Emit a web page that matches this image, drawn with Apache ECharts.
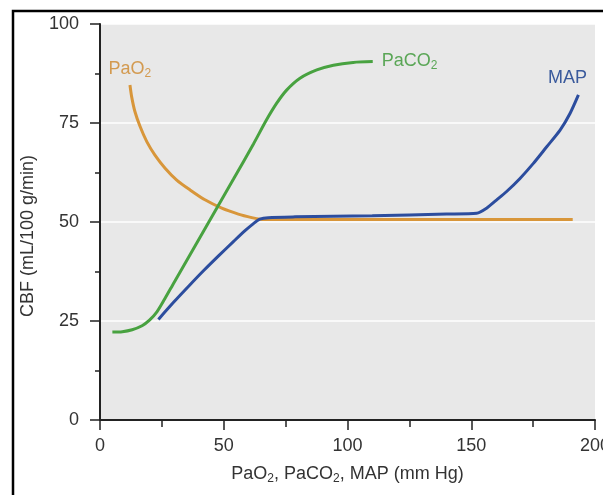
<!DOCTYPE html>
<html>
<head>
<meta charset="utf-8">
<script src="https://cdn.jsdelivr.net/npm/echarts@6/dist/echarts.min.js"></script>
<style>
  html, body { margin: 0; padding: 0; background: #fff; }
  #chart { width: 603px; height: 495px; }
</style>
</head>
<body>
<div id="chart"></div>
<script>
// curve samples (x = mm Hg, y = CBF)
const paO2X = [12.1, 12.8, 14.1, 16.2, 18.9, 22.2, 26.3, 31, 36.4, 42.4, 49.2, 55.9, 61.3, 64.6, 70, 100, 150, 191];
const paO2Y = [84.6, 81.6, 77.9, 74.1, 70.3, 66.9, 63.6, 60.6, 58.1, 55.6, 53.5, 52.0, 51.1, 50.7, 50.6, 50.6, 50.6, 50.6];

const paCO2X = [5, 9, 13, 17, 20, 23, 26, 30, 38, 46, 54, 62, 67.3, 71.4, 75.4, 80.8, 87.6, 94.3, 102.3, 110.2];
const paCO2Y = [22.2, 22.3, 22.8, 23.8, 25.2, 27.3, 30.4, 34.8, 43.5, 52.2, 60.9, 69.7, 75.8, 80.0, 83.3, 86.3, 88.4, 89.6, 90.3, 90.5];

const mapX = [23.6, 30, 36, 42, 48, 54, 58.6, 62, 64.6, 68, 78.8, 110, 140, 152.2, 156.2, 160.3, 164.3, 169.7, 175.1, 180.5, 185.9, 189.9, 193.3];
const mapY = [25.4, 29.9, 33.9, 37.8, 41.5, 45.1, 47.8, 49.6, 50.7, 51.1, 51.3, 51.6, 52.0, 52.2, 53.5, 55.6, 57.7, 61.0, 64.8, 69.0, 73.2, 77.4, 82.1];

const yTicks = [0, 25, 50, 75, 100];
const xTicks = [0, 50, 100, 150, 200];

const colors = { paO2: '#d8963a', paCO2: '#48a240', map: '#2c4d9e' };
const FONT = 'Liberation Sans';

const pairs = (xs, ys) => xs.map((x, i) => [x, ys[i]]);

// rich text so the "2" sits as a subscript
const subRich = (color) => ({
  a: { fontSize: 18, color: color, lineHeight: 19, verticalAlign: 'top', fontFamily: FONT },
  s: { fontSize: 12, color: color, lineHeight: 19, verticalAlign: 'top', padding: [8, 0, 0, 0], fontFamily: FONT }
});

// put a text label on one point of a series
const withLabel = (data, idx, label) =>
  data.map((p, i) => i === idx ? { value: p, label: Object.assign({ show: true }, label) } : p);

const chart = echarts.init(document.getElementById('chart'));

const option = {
  backgroundColor: '#fff',
  animation: false,
  graphic: [{
    type: 'rect',
    shape: { x: 13, y: 11, width: 700, height: 600 },
    style: { fill: 'none', stroke: '#000', lineWidth: 2.5 },
    z: 100
  }],
  grid: {
    left: 100, right: 8, top: 24, bottom: 75,
    outerBoundsMode: 'none',
    show: true, backgroundColor: '#e8e8e8', borderWidth: 0
  },
  xAxis: {
    type: 'value',
    min: xTicks[0], max: xTicks[xTicks.length - 1], interval: 50,
    name: '{a|PaO}{s|2}{a|, PaCO}{s|2}{a|, MAP (mm Hg)}',
    nameLocation: 'middle',
    nameGap: 45,
    nameTextStyle: { rich: subRich('#333') },
    axisLine: { show: true, lineStyle: { color: '#222', width: 2 } },
    axisTick: { show: true, length: 10, lineStyle: { color: '#222', width: 1.5 } },
    minorTick: { show: true, splitNumber: 2, length: 7, lineStyle: { color: '#222', width: 1.5 } },
    axisLabel: { color: '#333', fontSize: 18, fontFamily: FONT, margin: 17 },
    splitLine: { show: false }
  },
  yAxis: {
    type: 'value',
    min: yTicks[0], max: yTicks[yTicks.length - 1], interval: 25,
    name: 'CBF (mL/100 g/min)',
    nameLocation: 'middle',
    nameGap: 63,
    nameTextStyle: { color: '#333', fontSize: 18, fontFamily: FONT, padding: [0, 28, 0, 0] },
    axisLine: { show: true, lineStyle: { color: '#222', width: 2 } },
    axisTick: { show: true, length: 10, lineStyle: { color: '#222', width: 1.5 } },
    minorTick: { show: true, splitNumber: 2, length: 5, lineStyle: { color: '#222', width: 1.5 } },
    axisLabel: { color: '#333', fontSize: 18, fontFamily: FONT, margin: 21 },
    splitLine: { show: true, lineStyle: { color: '#fff', width: 1.5 } }
  },
  series: [
    {
      name: 'PaO2', type: 'line',
      data: withLabel(pairs(paO2X, paO2Y), 0, {
        position: 'top', distance: 6,
        formatter: '{a|PaO}{s|2}', rich: subRich('#d39a50')
      }),
      smooth: 0.25,
      symbol: 'circle', symbolSize: 0, showSymbol: true,
      lineStyle: { color: colors.paO2, width: 3 }
    },
    {
      name: 'PaCO2', type: 'line',
      data: withLabel(pairs(paCO2X, paCO2Y), paCO2X.length - 1, {
        position: 'right', distance: 9,
        formatter: '{a|PaCO}{s|2}', rich: subRich('#5aa656')
      }),
      smooth: 0.25,
      symbol: 'circle', symbolSize: 0, showSymbol: true,
      lineStyle: { color: colors.paCO2, width: 3 }
    },
    {
      name: 'MAP', type: 'line',
      data: withLabel(pairs(mapX, mapY), mapX.length - 1, {
        position: 'top', distance: 7, offset: [-11, 0],
        formatter: '{a|MAP}', rich: subRich('#3a5a9c')
      }),
      smooth: 0.25,
      symbol: 'circle', symbolSize: 0, showSymbol: true,
      lineStyle: { color: colors.map, width: 3 }
    }
  ]
};

chart.setOption(option);
</script>
</body>
</html>
